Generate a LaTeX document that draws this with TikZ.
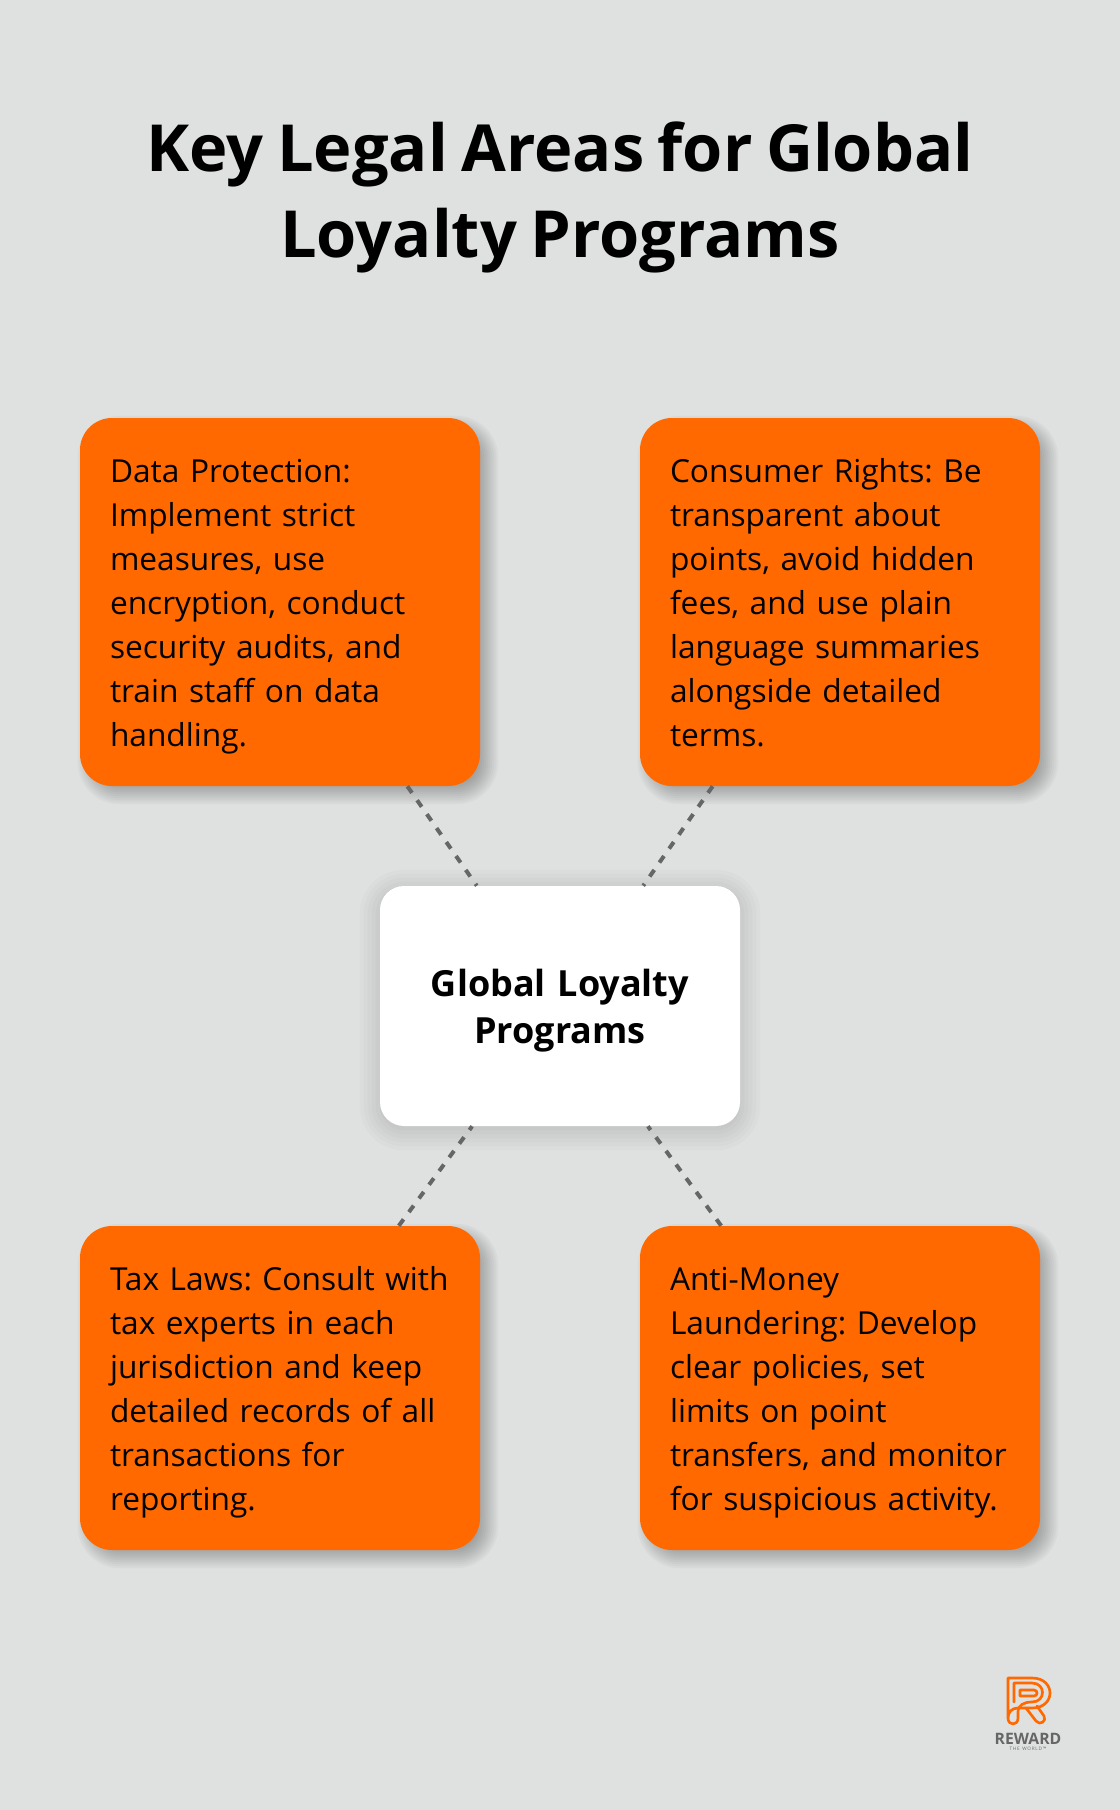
\documentclass[tikz,border=0pt]{standalone}
\usepackage{fontspec}
\setmainfont[WordSpace=0.8]{Open Sans}
\usepackage{tikz}
\usetikzlibrary{backgrounds}
\definecolor{pagebg}{HTML}{DFE1E1}
\definecolor{boxorange}{HTML}{FF6900}
\definecolor{linegray}{HTML}{666666}
\begin{document}
\frenchspacing
\begin{tikzpicture}[x=0.75pt,y=-0.75pt,
	areabox/.style={fill=boxorange,rounded corners=24pt,minimum width=300pt,inner sep=0pt,text width=255pt,align=left,
		font=\fontsize{23.75}{33}\selectfont,text=black,
		execute at begin node={\rule{0pt}{26.25pt}},execute at end node={\rule[-7.25pt]{0pt}{7.25pt}}},
	hubbox/.style={fill=white,rounded corners=18pt,minimum width=270pt,minimum height=180pt,inner sep=0pt,text width=240pt,
		align=center,font=\fontsize{27}{35.25}\selectfont\bfseries,
		execute at begin node={\rule{0pt}{28pt}},execute at end node={\rule[-7.75pt]{0pt}{7.75pt}}},
	softshade/.style={black,opacity=0.028},
	hubshade/.style={black,opacity=0.014},
	link/.style={linegray,line width=3pt,dash pattern=on 6pt off 6.75pt},
	logoline/.style={boxorange,line width=2pt,line join=round,line cap=round}]
		\useasboundingbox (0,0) rectangle (1120,1810);
		\node[align=center,font=\fontsize{48.7}{64.5}\selectfont\bfseries] (title) at (560,197) {Key Legal Areas for Global\\Loyalty Programs};
		\node[areabox,minimum height=276pt] (data) at (280,602) {Data Protection:\\Implement strict\\measures, use\\encryption, conduct\\security audits, and\\train staff on data\\handling.};
		\node[areabox,minimum height=276pt] (consumer) at (840,602) {Consumer Rights: Be\\transparent about\\points, avoid hidden\\fees, and use plain\\language summaries\\alongside detailed\\terms.};
		\node[areabox,minimum height=243pt] (tax) at (280,1388) {Tax Laws: Consult with\\tax experts in each\\jurisdiction and keep\\detailed records of all\\transactions for\\reporting.};
		\node[areabox,minimum height=243pt] (money) at (840,1388) {Anti-Money\\Laundering: Develop\\clear policies, set\\limits on point\\transfers, and monitor\\for suspicious activity.};
		\node[hubbox] (hub) at (560,1006) {Global Loyalty\\Programs};
		\begin{scope}[on background layer]
			\fill[pagebg] (0,0) rectangle (1120,1810);
			\foreach \n in {data,consumer,tax,money}
			\foreach \g in {-7.5,-6,...,7.5}
			\fill[softshade,rounded corners={(24+\g)*1pt}] ([xshift={(6-\g)*1pt},yshift={(-6-\g)*1pt}]\n.south west) rectangle ([xshift={(6+\g)*1pt},yshift={(-6+\g)*1pt}]\n.north east);
			\foreach \g in {-9,-6,...,15}
			\fill[hubshade,rounded corners={(18+\g)*1pt}] ([xshift={(0-\g)*1pt},yshift={(-3-\g)*1pt}]hub.south west) rectangle ([xshift={(0+\g)*1pt},yshift={(-3+\g)*1pt}]hub.north east);
		\end{scope}
		\foreach \n in {data,consumer,tax,money}
		\draw[link] (\n) -- (hub);
		\draw[logoline] (1008,1718) -- (1008,1678) -- (1032,1678) .. controls (1056,1678) and (1056,1708) .. (1032,1708) -- (1018,1708) .. controls (1012,1708) and (1008,1712) .. (1008,1718);
		\draw[logoline] (1008,1718) .. controls (1008,1726) and (1018,1726) .. (1018,1718) -- (1018,1712) .. controls (1018,1705) and (1024,1702) .. (1032,1702) .. controls (1046,1702) and (1046,1683) .. (1032,1683) -- (1014,1683) -- (1014,1702);
		\draw[logoline] (1020,1690) -- (1034,1690) .. controls (1038,1690) and (1038,1696) .. (1034,1696) -- (1020,1696) -- cycle;
		\draw[logoline] (1026,1708) -- (1036,1721) .. controls (1040,1726) and (1047,1721) .. (1044,1716) -- (1037,1706);
		\node[text=linegray,font=\fontsize{11.8}{12}\selectfont\bfseries,inner sep=0pt] (reward) at (1028,1739) {REWARD};
		\node[text=linegray,font=\fontsize{3.5}{4}\selectfont,inner sep=0pt] (world) at (1028,1749) {T\,H\,E\, \,W\,O\,R\,L\,D\,™};
	\end{tikzpicture}
\end{document}
